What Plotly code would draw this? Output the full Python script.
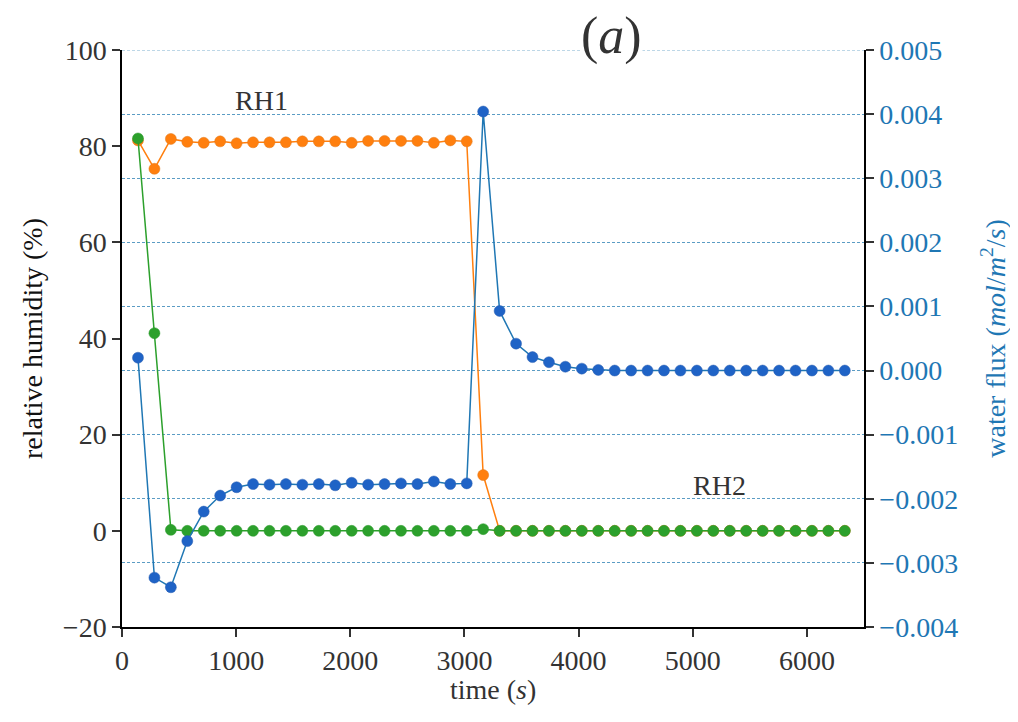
import plotly.graph_objects as go

time_s = [140, 284, 428, 572, 716, 860, 1004, 1148, 1292, 1436, 1580, 1724, 1868, 2012, 2156,
          2300, 2444, 2588, 2732, 2876, 3020, 3164, 3308, 3452, 3596, 3740, 3884, 4028, 4172,
          4316, 4460, 4604, 4748, 4892, 5036, 5180, 5324, 5468, 5612, 5756, 5900, 6044, 6188, 6332]

rh1 = [81.2, 75.3, 81.5, 80.9, 80.7, 81.0, 80.6, 80.8, 80.8, 80.8, 81.0, 81.0, 81.0, 80.7, 81.1,
       81.1, 81.1, 81.1, 80.7, 81.2, 81.0, 11.6, 0.0, 0.0, 0.0, 0.0, 0.0, 0.0, 0.0,
       0.0, 0.0, 0.0, 0.0, 0.0, 0.0, 0.0, 0.0, 0.0, 0.0, 0.0, 0.0, 0.0, 0.0, 0.0]

rh2 = [81.6, 41.1, 0.2, 0.0, 0.0, 0.0, 0.0, 0.0, 0.0, 0.0, 0.0, 0.0, 0.0, 0.0, 0.0,
       0.0, 0.0, 0.0, 0.0, 0.0, 0.0, 0.35, 0.0, 0.0, 0.0, 0.0, 0.0, 0.0, 0.0,
       0.0, 0.0, 0.0, 0.0, 0.0, 0.0, 0.0, 0.0, 0.0, 0.0, 0.0, 0.0, 0.0, 0.0, 0.0]

water_flux = [0.00020, -0.00323, -0.00338, -0.00266, -0.00220, -0.00195, -0.00182, -0.00177,
              -0.00178, -0.00177, -0.00178, -0.00177, -0.00179, -0.00175, -0.00178, -0.00177,
              -0.00176, -0.00177, -0.00173, -0.00177, -0.00176, 0.00404, 0.00093, 0.00042,
              0.00021, 0.00013, 0.00006, 0.00003, 0.00001, 0.0, 0.0, 0.0, 0.0, 0.0, 0.0, 0.0,
              0.0, 0.0, 0.0, 0.0, 0.0, 0.0, 0.0, 0.0]

left_ticks = [-20, 0, 20, 40, 60, 80, 100]
right_ticks = [-0.004, -0.003, -0.002, -0.001, 0.0, 0.001, 0.002, 0.003, 0.004, 0.005]
x_ticks = [0, 1000, 2000, 3000, 4000, 5000, 6000]

FONT = "Liberation Serif, Times New Roman, serif"
TXT = "#333333"
BLUE = "#1f77b4"
GRID = "#5b9cc4"
FS = 28

fig = go.Figure()
fig.add_trace(go.Scatter(x=time_s, y=rh1, mode="lines+markers", name="RH1",
                         line=dict(color="#ff7f0e", width=1.5),
                         marker=dict(color="#ff7f0e", size=11, line=dict(color="#e0781a", width=0.5))))
fig.add_trace(go.Scatter(x=time_s, y=rh2, mode="lines+markers", name="RH2",
                         line=dict(color="#2ca02c", width=1.5),
                         marker=dict(color="#2ca02c", size=11, line=dict(color="#2a9a2a", width=0.5))))
fig.add_trace(go.Scatter(x=time_s, y=water_flux, mode="lines+markers", name="water flux",
                         yaxis="y2",
                         line=dict(color=BLUE, width=1.5),
                         marker=dict(color="#1f63c6", size=11, line=dict(color="#2a5fb0", width=0.5))))

fig.update_layout(
    width=1018, height=722,
    margin=dict(l=114, r=162, t=42, b=103),
    paper_bgcolor="white", plot_bgcolor="white",
    showlegend=False,
    font=dict(family=FONT, color=TXT, size=FS),
    xaxis=dict(range=[0, 6500], tickvals=x_ticks, showgrid=False, zeroline=False,
               automargin=False,
               showline=True, linecolor="black", linewidth=1.5,
               ticks="outside", ticklen=8, tickwidth=1.5, tickcolor="#333",
               tickfont=dict(family=FONT, size=FS, color=TXT)),
    yaxis=dict(range=[-20, 100], tickvals=left_ticks, showgrid=False, zeroline=False,
               automargin=False,
               showline=True, linecolor="black", linewidth=1.5,
               ticks="outside", ticklen=8, tickwidth=1.5, tickcolor="#333",
               tickfont=dict(family=FONT, size=FS, color=TXT),
               title=dict(text="relative humidity (%)", font=dict(family=FONT, size=FS, color="#111"), standoff=12)),
    yaxis2=dict(range=[-0.004, 0.005], tickvals=right_ticks, tickformat=".3f",
                overlaying="y", side="right", automargin=False,
                showgrid=True, gridcolor=GRID, gridwidth=0.8, griddash="3px,2px",
                zeroline=False, showline=True, linecolor="black", linewidth=1.5,
                ticks="outside", ticklen=8, tickwidth=1.5, tickcolor="#333",
                tickfont=dict(family=FONT, size=FS, color=BLUE),
                title=dict(text="water flux (<i>mol</i>/<i>m</i><sup>2</sup>/<i>s</i>)",
                           font=dict(family=FONT, size=FS, color=BLUE), standoff=28)),
)

# top gridline at the upper limit of the right axis
fig.add_shape(type="line", xref="paper", x0=0, x1=1, yref="y2",
              y0=right_ticks[-1], y1=right_ticks[-1],
              line=dict(color=GRID, width=0.8, dash="3px,2px"), layer="below")

# x-axis title
fig.add_annotation(x=0.5, y=-0.108, xref="paper", yref="paper", text="time (<i>s</i>)", showarrow=False,
                   xanchor="center", yanchor="middle",
                   font=dict(family=FONT, size=FS, color=TXT))

fig.add_annotation(x=1225, y=89.6, xref="x", yref="y", text="RH1", showarrow=False,
                   font=dict(family=FONT, size=FS, color=TXT))
fig.add_annotation(x=5232, y=9.4, xref="x", yref="y", text="RH2", showarrow=False,
                   font=dict(family=FONT, size=FS, color=TXT))
fig.add_annotation(x=0.66, y=1.024, xref="paper", yref="paper", text="(<i>a</i>)", showarrow=False,
                   xanchor="center", yanchor="middle",
                   bgcolor="white", font=dict(family=FONT, size=52, color=TXT), borderpad=0)

fig.write_html("out.html")
